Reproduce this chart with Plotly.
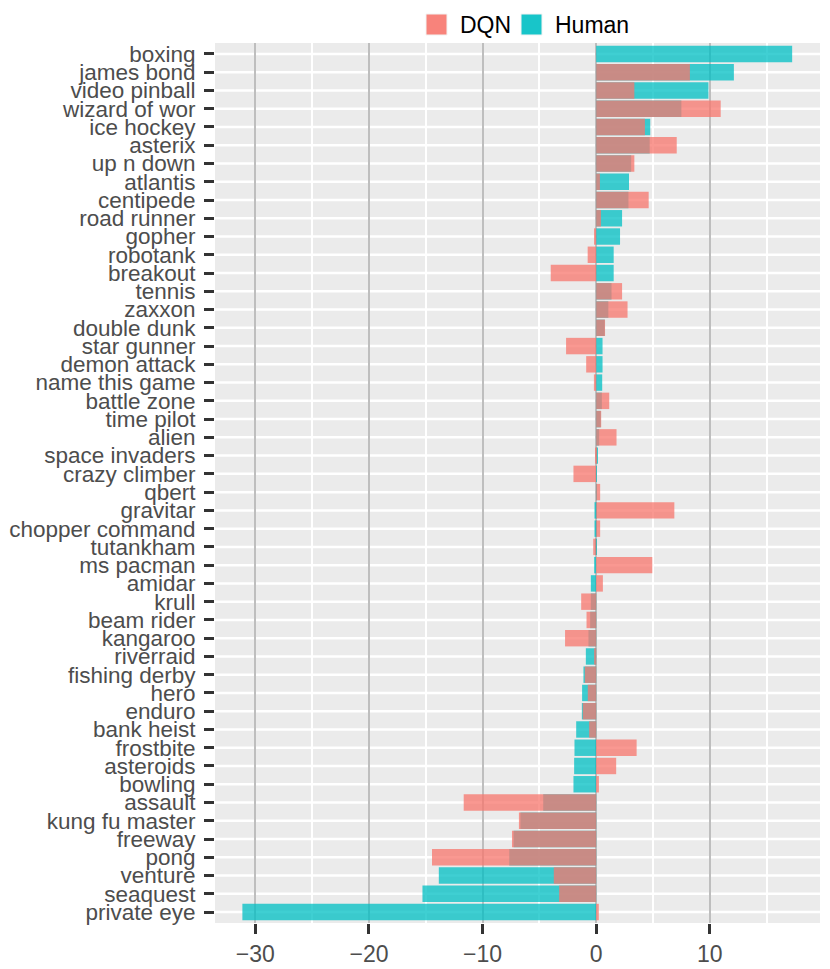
import plotly.graph_objects as go

# games, top to bottom
games = [
    "boxing", "james bond", "video pinball", "wizard of wor", "ice hockey",
    "asterix", "up n down", "atlantis", "centipede", "road runner", "gopher",
    "robotank", "breakout", "tennis", "zaxxon", "double dunk", "star gunner",
    "demon attack", "name this game", "battle zone", "time pilot", "alien",
    "space invaders", "crazy climber", "qbert", "gravitar", "chopper command",
    "tutankham", "ms pacman", "amidar", "krull", "beam rider", "kangaroo",
    "riverraid", "fishing derby", "hero", "enduro", "bank heist", "frostbite",
    "asteroids", "bowling", "assault", "kung fu master", "freeway", "pong",
    "venture", "seaquest", "private eye",
]
dqn = [
    0.0, 8.25, 3.36, 10.96, 4.29, 7.09, 3.36, 0.33, 4.62, 0.42, -0.19,
    -0.75, -4.0, 2.28, 2.76, 0.78, -2.65, -0.88, -0.2, 1.15, 0.44, 1.79,
    -0.09, -2.0, 0.35, 6.88, 0.35, -0.26, 4.94, 0.59, -1.32, -0.85, -2.74,
    -0.18, -1.0, -0.74, -1.18, -0.62, 3.56, 1.76, 0.24, -11.66, -6.8,
    -7.41, -14.45, -3.73, -3.26, 0.23,
]
human = [
    17.25, 12.12, 9.88, 7.5, 4.76, 4.71, 3.08, 2.89, 2.84, 2.28, 2.1,
    1.54, 1.54, 1.35, 1.07, 0.75, 0.56, 0.56, 0.53, 0.5, 0.4, 0.26,
    0.12, 0.06, 0.02, -0.15, -0.15, -0.05, -0.18, -0.47, -0.47, -0.53, -0.68,
    -0.91, -1.12, -1.24, -1.26, -1.76, -1.91, -1.94, -2.0, -4.66, -6.67,
    -7.27, -7.65, -13.85, -15.29, -31.14,
]
x_ticks = [-30, -20, -10, 0, 10]

RED = "#F8766D"
TEAL = "#00BFC4"
FONT = "Liberation Sans, Arial, sans-serif"

# the page body has an 8px margin, so the figure is 8px smaller than the window
OFF = 8
W, H = 830 - OFF, 969 - OFF
L, R, T, B = 215 - OFF, 10, 43 - OFF, 46
pw, ph = W - L - R, H - T - B


def px(x):
    return (x - OFF - L) / pw


def py(y):
    return (H - B - (y - OFF)) / ph


fig = go.Figure()
# Human first so the DQN bars sit on top of it
fig.add_trace(go.Bar(y=games, x=human, orientation="h", width=0.9,
                     marker=dict(color=TEAL, line_width=0), opacity=0.75,
                     name="Human", showlegend=False))
fig.add_trace(go.Bar(y=games, x=dqn, orientation="h", width=0.9,
                     marker=dict(color=RED, line_width=0), opacity=0.75,
                     name="DQN", showlegend=False))

# white row lines under the grid, so the grey verticals stay unbroken
for g in games:
    fig.add_shape(type="line", xref="paper", yref="y", x0=0, x1=1, y0=g, y1=g,
                  layer="below", line=dict(color="white", width=2.5))

# legend drawn by hand (ggplot-sized keys)
keys = [("DQN", RED, 426, 458), ("Human", TEAL, 521, 553)]
for label, color, x0, tx in keys:
    fig.add_shape(type="rect", xref="paper", yref="paper",
                  x0=px(x0), x1=px(x0 + 21), y0=py(35), y1=py(14),
                  fillcolor=color, opacity=0.9,
                  line=dict(color="#F2F2F2", width=1))
    fig.add_annotation(text=label, xref="paper", yref="paper",
                       x=px(tx), y=py(25), xanchor="left", yanchor="middle",
                       showarrow=False, font=dict(family=FONT, size=23, color="black"))

fig.update_layout(
    width=W, height=H,
    margin=dict(l=L, r=R, t=T, b=B, autoexpand=False),
    barmode="overlay",
    plot_bgcolor="#EBEBEB",
    paper_bgcolor="white",
    font=dict(family=FONT, size=23, color="#4D4D4D"),
    showlegend=False,
)
fig.update_xaxes(
    automargin=False,
    range=[-33.55, 19.7], tickmode="array", tickvals=x_ticks,
    ticks="outside", ticklen=10, tickwidth=3, tickcolor="#333333",
    tickfont=dict(family=FONT, size=23, color="#4D4D4D"),
    showgrid=True, gridcolor="#BEBEBE", gridwidth=2,
    minor=dict(dtick=5, tick0=0, showgrid=True, gridcolor="white", gridwidth=2, ticks=""),
    zeroline=False, showline=False,
)
fig.update_yaxes(
    automargin=False,
    type="category", categoryorder="array", categoryarray=games,
    tickmode="array", tickvals=games, ticktext=games,
    range=[47.6, -0.6],
    ticks="outside", ticklen=10, tickwidth=3, tickcolor="#333333",
    ticklabelstandoff=4,
    tickfont=dict(family=FONT, size=22.5, color="#4D4D4D"),
    showgrid=False,
    zeroline=False, showline=False,
)

fig.write_html("out.html")
